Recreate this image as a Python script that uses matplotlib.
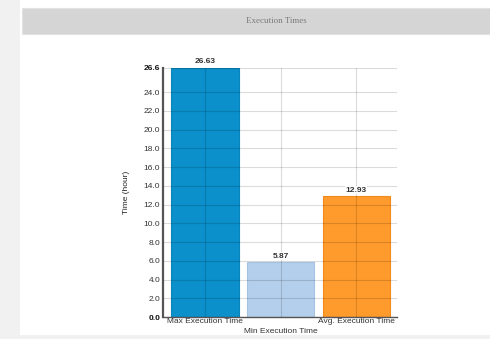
import matplotlib
matplotlib.use("Agg")
import matplotlib.pyplot as plt
from matplotlib.patches import Rectangle

# execution time summary (hours)
categories = ["Max Execution Time", "Min Execution Time", "Avg. Execution Time"]
hours = [26.63, 5.87, 12.93]
bar_colors = ["#0b90cc", "#b4cfeb", "#ff9a2c"]
edge_colors = ["#0a84bb", "#a6c3e2", "#f28a1c"]
ytick_vals = [0, 2, 4, 6, 8, 10, 12, 14, 16, 18, 20, 22, 24]

plt.rcParams['font.family'] = ['Liberation Sans', 'DejaVu Sans']

W, H = 490, 339
fig = plt.figure(figsize=(W / 100, H / 100), dpi=100)
fig.patch.set_facecolor("white")

# page background, panel and header bar
fig.add_artist(Rectangle((0, 0), 20 / W, 1, transform=fig.transFigure,
                         facecolor="#f1f1f1", edgecolor="none", zorder=0))
fig.add_artist(Rectangle((0, 0), 1, 4 / H, transform=fig.transFigure,
                         facecolor="#f1f1f1", edgecolor="none", zorder=0))
fig.add_artist(Rectangle((22 / W, 1 - 34 / H), 1, 26 / H, transform=fig.transFigure,
                         facecolor="#d5d5d5", edgecolor="#e2e2e2", lw=0.8, zorder=1))
fig.text(276 / W, 1 - 21 / H, "Execution Times", family="Liberation Serif",
         fontsize=6.5, color="#7a7a7a", ha="center", va="center")

ax = fig.add_axes([163 / W, 1 - 317 / H, (397 - 163) / W, (317 - 67.5) / H])
x = list(range(len(categories)))
ax.bar(x, hours, width=0.89, color=bar_colors, edgecolor=edge_colors,
       linewidth=0.8, zorder=2)

for xi, v in zip(x, hours):
    ax.text(xi, v + 0.25, f"{v:.2f}", ha="center", va="bottom", zorder=5,
            fontsize=6, fontweight="bold", color="#333333",
            bbox=dict(facecolor="white", edgecolor="none", pad=0.3))

ax.set_xlim(-0.556, 2.54)
ax.set_ylim(0, hours[0])

ax.set_yticks(ytick_vals + [hours[0]])
labels = [f"{t:.1f}" for t in ytick_vals] + [f"{hours[0]:.1f}"]
ax.set_yticklabels(labels)
for i, lab in enumerate(ax.get_yticklabels()):
    lab.set_fontsize(6)
    lab.set_color("#333333")
    if i == 0 or i == len(labels) - 1:
        lab.set_fontweight("bold")
        lab.set_color("#111111")

ax.set_xticks(x)
ax.set_xticklabels([])
for xi, name in zip(x, categories):
    dy = -8 if xi == 1 else -1
    ax.annotate(name, (xi, 0), xytext=(0, dy), textcoords="offset points",
                ha="center", va="top", fontsize=6, color="#333333")

ax.tick_params(axis="y", length=0, pad=2)
ax.tick_params(axis="x", length=0)
# translucent grid drawn over the bars
ax.grid(True, color="black", alpha=0.14, linewidth=0.8, zorder=3)
ax.set_axisbelow(False)

for side in ("top", "right"):
    ax.spines[side].set_visible(False)
ax.spines["left"].set_color("#555555")
ax.spines["left"].set_linewidth(1.6)
ax.spines["bottom"].set_color("#555555")
ax.spines["bottom"].set_linewidth(1.0)

ax.set_ylabel("Time (hour)", fontsize=6, color="#222222", labelpad=10)

fig.savefig("out.png", dpi=100)
